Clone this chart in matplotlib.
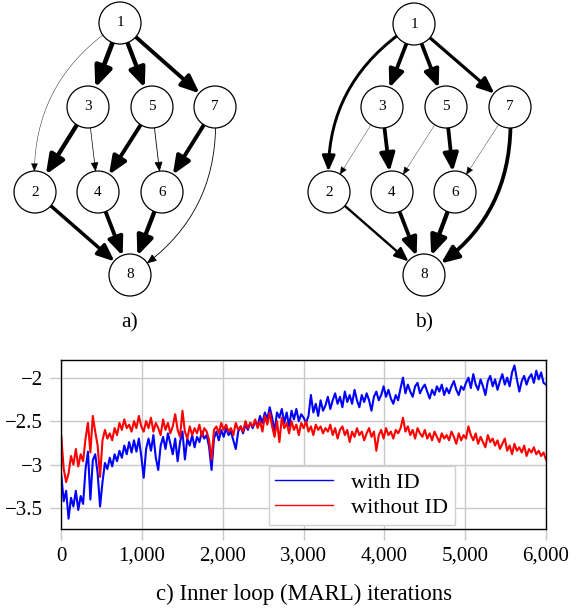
import matplotlib
matplotlib.use("Agg")
import matplotlib.pyplot as plt
from matplotlib.patches import Circle, FancyArrowPatch
from matplotlib.ticker import FuncFormatter, FixedLocator

plt.rcParams['font.family'] = ['Liberation Serif', 'DejaVu Serif']

# graph layouts (pixel positions of nodes)
nodes_a = {1: (120, 23), 3: (88, 107), 5: (152, 107), 7: (215, 107),
           2: (35, 192), 4: (98, 192), 6: (162, 192), 8: (130, 275)}
nodes_b = {1: (414, 24), 3: (382, 107), 5: (446, 107), 7: (510, 107),
           2: (329, 192), 4: (392, 192), 6: (455, 192), 8: (424, 275)}

# edges: (from, to, width)
edges_a = [(1, 3, 3.4), (1, 5, 3.1), (1, 7, 2.8), (1, 2, 0.3), (3, 2, 3.1),
           (3, 4, 0.5), (5, 4, 2.8), (5, 6, 0.6), (7, 6, 2.8), (7, 8, 0.6),
           (2, 8, 2.5), (4, 8, 2.8), (6, 8, 3.1)]
edges_b = [(1, 2, 2.1), (1, 3, 2.7), (1, 5, 2.7), (1, 7, 2.3), (3, 2, 0.25),
           (3, 4, 2.7), (5, 4, 0.25), (5, 6, 2.7), (7, 6, 0.25), (7, 8, 2.7),
           (2, 8, 1.7), (4, 8, 2.7), (6, 8, 3.1)]
curved = {(1, 2): 0.3, (7, 8): -0.3}

# line chart data
iters = list(range(0, 6001, 30))
with_id = [
    -3.12, -3.42, -3.30, -3.62, -3.38, -3.48, -3.30, -3.52, -3.36, -3.45,
    -3.05, -2.85, -3.40, -2.95, -2.88, -3.10, -3.48, -3.20, -2.98, -3.05,
    -2.92, -3.02, -2.88, -2.96, -2.84, -2.92, -2.78, -2.88, -2.74, -2.86,
    -2.72, -2.85, -2.70, -2.90, -3.15, -2.82, -2.70, -2.84, -2.66, -2.92,
    -3.06, -2.78, -2.68, -2.82, -2.64, -2.76, -2.88, -2.70, -2.96, -2.74,
    -2.62, -2.94, -2.70, -2.78, -2.66, -2.80, -2.68, -2.74, -2.62, -2.70,
    -2.66, -2.80, -3.06, -2.70, -2.62, -2.72, -2.60, -2.68, -2.58, -2.66,
    -2.62, -2.72, -2.82, -2.62, -2.56, -2.64, -2.54, -2.60, -2.52, -2.58,
    -2.50, -2.56, -2.44, -2.52, -2.40, -2.48, -2.34, -2.46, -2.62, -2.40,
    -2.46, -2.36, -2.52, -2.40, -2.56, -2.38, -2.48, -2.36, -2.50, -2.42,
    -2.46, -2.52, -2.44, -2.20, -2.40, -2.30, -2.44, -2.26, -2.38, -2.32,
    -2.22, -2.36, -2.26, -2.18, -2.30, -2.22, -2.34, -2.16, -2.28, -2.20,
    -2.30, -2.14, -2.26, -2.34, -2.20, -2.28, -2.18, -2.26, -2.38, -2.22,
    -2.16, -2.26, -2.20, -2.10, -2.22, -2.14, -2.24, -2.30, -2.20, -2.26,
    -2.12, -2.00, -2.18, -2.08, -2.16, -2.22, -2.10, -2.06, -2.18, -2.12,
    -2.08, -2.16, -2.24, -2.14, -2.20, -2.10, -2.16, -2.08, -2.20, -2.12,
    -2.18, -2.10, -2.04, -2.14, -2.20, -2.10, -2.14, -2.06, -2.00, -2.12,
    -1.96, -2.08, -2.14, -2.02, -2.10, -2.20, -2.04, -1.98, -2.10, -2.02,
    -2.14, -2.04, -1.96, -2.08, -2.00, -2.10, -1.94, -1.86, -2.02, -2.16,
    -2.04, -1.98, -2.08, -2.00, -1.96, -2.06, -1.92, -2.02, -1.94, -2.06,
    -2.08]
without_id = [
    -2.68, -3.05, -3.20, -3.10, -2.90, -3.00, -2.82, -3.02, -2.88, -2.96,
    -2.70, -2.52, -2.86, -2.44, -2.62, -2.78, -3.14, -2.72, -2.60, -2.70,
    -2.64, -2.72, -2.58, -2.66, -2.52, -2.60, -2.48, -2.58, -2.54, -2.62,
    -2.50, -2.58, -2.44, -2.56, -2.62, -2.50, -2.58, -2.46, -2.62, -2.52,
    -2.58, -2.66, -2.48, -2.60, -2.52, -2.64, -2.56, -2.42, -2.60, -2.68,
    -2.38, -2.62, -2.70, -2.56, -2.66, -2.58, -2.64, -2.54, -2.68, -2.58,
    -2.62, -2.72, -2.94, -2.60, -2.56, -2.64, -2.52, -2.60, -2.54, -2.62,
    -2.58, -2.66, -2.52, -2.60, -2.56, -2.62, -2.50, -2.58, -2.52, -2.56,
    -2.48, -2.58, -2.50, -2.62, -2.44, -2.54, -2.40, -2.56, -2.68, -2.50,
    -2.74, -2.46, -2.58, -2.52, -2.64, -2.50, -2.60, -2.54, -2.66, -2.52,
    -2.58, -2.50, -2.62, -2.56, -2.66, -2.54, -2.60, -2.56, -2.64, -2.58,
    -2.62, -2.54, -2.66, -2.58, -2.70, -2.60, -2.56, -2.66, -2.60, -2.74,
    -2.62, -2.68, -2.58, -2.66, -2.62, -2.72, -2.64, -2.58, -2.68, -2.62,
    -2.84, -2.66, -2.60, -2.70, -2.58, -2.66, -2.62, -2.70, -2.60, -2.64,
    -2.58, -2.46, -2.62, -2.56, -2.66, -2.60, -2.70, -2.58, -2.64, -2.68,
    -2.60, -2.70, -2.64, -2.72, -2.62, -2.68, -2.74, -2.64, -2.70, -2.66,
    -2.72, -2.62, -2.68, -2.76, -2.64, -2.72, -2.66, -2.70, -2.56, -2.66,
    -2.72, -2.64, -2.76, -2.68, -2.74, -2.80, -2.66, -2.74, -2.70, -2.78,
    -2.72, -2.82, -2.76, -2.70, -2.84, -2.78, -2.88, -2.76, -2.84, -2.80,
    -2.86, -2.78, -2.90, -2.82, -2.86, -2.80, -2.88, -2.84, -2.90, -2.86,
    -2.94]
xticks = [0, 1000, 2000, 3000, 4000, 5000, 6000]
yticks = [-3.5, -3, -2.5, -2]

fig = plt.figure(figsize=(5.86, 6.09), dpi=100)

# top: the two graphs, drawn in pixel coordinates
gax = fig.add_axes([0, 0, 1, 1])
gax.set_xlim(0, 586)
gax.set_ylim(609, 0)
gax.axis('off')


def draw_graph(nodes, edges, label):
    circles = {}
    for n, (x, y) in nodes.items():
        c = Circle((x, y), 21, facecolor='white', edgecolor='black', lw=0.9, zorder=3)
        gax.add_patch(c)
        circles[n] = c
        gax.text(x, y, str(n), ha='center', va='center', fontsize=11, zorder=4)
    for a, b, w in edges:
        hl = 4.5 + 2.3 * w
        arrow = FancyArrowPatch(nodes[a], nodes[b],
                                arrowstyle=f'-|>,head_length={hl},head_width={0.42 * hl}',
                                connectionstyle=f'arc3,rad={curved.get((a, b), 0)}',
                                patchA=circles[a], patchB=circles[b],
                                shrinkA=0, shrinkB=0, lw=w, color='black',
                                mutation_scale=1, zorder=2)
        gax.add_patch(arrow)
    xs = [p[0] for p in nodes.values()]
    gax.text((min(xs) + max(xs)) / 2 + 5, 323, label, ha='center', va='center', fontsize=15.5)


draw_graph(nodes_a, edges_a, 'a)')
draw_graph(nodes_b, edges_b, 'b)')

# bottom: learning curves
ax = fig.add_axes([0.1046, 0.132, 0.8271, 0.2765])
ax.plot(iters, with_id, color='#0000ff', lw=1.5, label='with ID')
ax.plot(iters, without_id, color='#ff0000', lw=1.5, label='without ID')
ax.set_xlim(0, 6000)
ax.set_ylim(-3.734, -1.8)
ax.xaxis.set_major_locator(FixedLocator(xticks))
ax.yaxis.set_major_locator(FixedLocator(yticks))
ax.xaxis.set_major_formatter(FuncFormatter(lambda v, p: f'{int(v):,}'))
ax.yaxis.set_major_formatter(FuncFormatter(lambda v, p: f'{v:g}'.replace('-', '\u2212')))
ax.grid(True, color='#c8c8c8', lw=1)
ax.set_axisbelow(True)
ax.tick_params(labelsize=15, direction='out', length=8, width=1, color='#c8c8c8', pad=5)
for s in ax.spines.values():
    s.set_linewidth(1.0)
ax.set_xlabel('c) Inner loop (MARL) iterations', fontsize=16.5, labelpad=13)
leg = ax.legend(loc='lower left', bbox_to_anchor=(0.428, 0.022), borderaxespad=0,
                fontsize=16, fancybox=False, framealpha=1, edgecolor='#d0d0d0',
                handlelength=2.6, labelspacing=0.2, borderpad=0.3)
leg.get_frame().set_linewidth(1.0)
for h in leg.get_lines():
    h.set_linewidth(1.0)

fig.savefig('out.png', dpi=100)
